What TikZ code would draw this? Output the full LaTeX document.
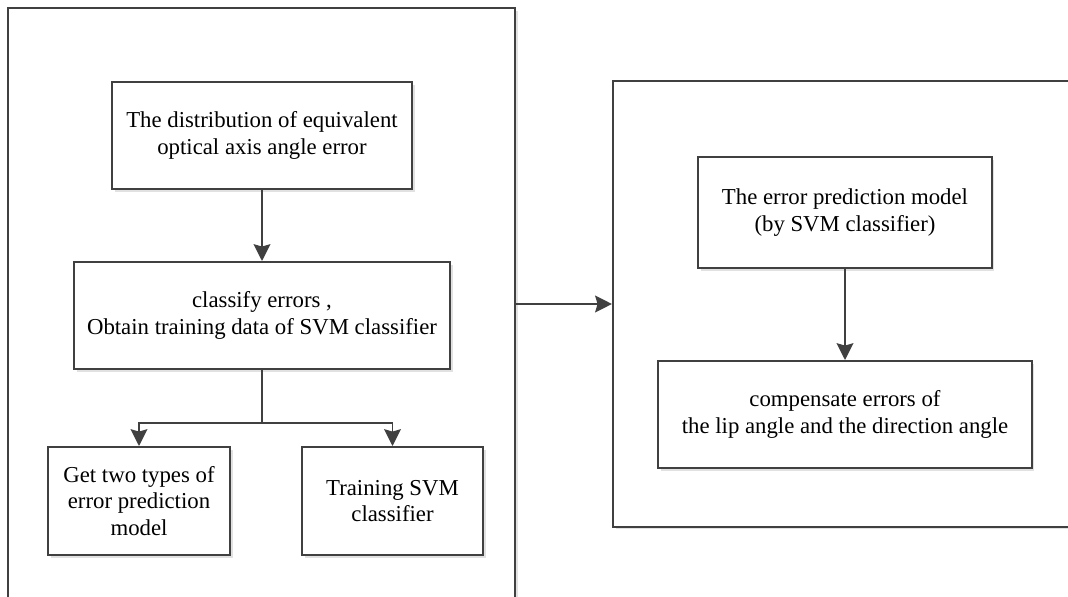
\documentclass[tikz,border=0pt]{standalone}
\usepackage{fontspec}
\setmainfont{Liberation Serif}
\usetikzlibrary{arrows.meta,positioning,shadows}
\definecolor{ln}{RGB}{64,64,64}
\definecolor{sh}{RGB}{225,225,225}
\tikzset{
    frame/.style={rectangle,draw=ln,line width=1.4pt,fill=white,drop shadow={shadow xshift=0.07cm,shadow yshift=-0.07cm,fill=sh,opacity=1}},
    blk/.style={frame,align=center,font=\fontsize{16.2}{18.6}\selectfont,inner sep=2pt},
    arr/.style={-{Stealth[length=0.42cm,width=0.42cm,inset=0.06cm]},line width=1.4pt,ln},
    lnk/.style={line width=1.4pt,ln},
}

\begin{document}
\begin{tikzpicture}[x=0.025cm,y=-0.025cm]
\useasboundingbox (0,0) rectangle (1068,597);
\clip (0,0) rectangle (1068,597);
% two outer panels
\node[frame,minimum width=12.675cm,minimum height=14.8cm] (left) at (261.5,304) {};
\node[frame,minimum width=11.55cm,minimum height=11.125cm] (right) at (844,304) {};
% left panel
\node[blk,minimum width=7.5cm,minimum height=2.675cm] (dist) at (262,135.5) {The distribution of equivalent\\optical axis angle error};
\node[blk,minimum width=9.4cm,minimum height=2.675cm] (cls) at (262,315.5) {classify errors ,\\Obtain training data of SVM classifier};
\node[blk,minimum width=4.55cm,minimum height=2.7cm] (types) at (139,501) {Get two types of\\error prediction\\model};
\node[blk,minimum width=4.525cm,minimum height=2.7cm] (train) at (392.5,501) {Training SVM\\classifier};
\coordinate (split) at (262,423);
% right panel
\node[blk,minimum width=7.325cm,minimum height=2.775cm] (pred) at (845,212.5) {The error prediction model\\(by SVM classifier)};
\node[blk,minimum width=9.325cm,minimum height=2.675cm] (comp) at (845,414.5) {compensate errors of\\the lip angle and the direction angle};
% connectors
\draw[arr] (dist) -- (cls);
\draw[lnk] (cls) -- (split);
\draw[arr] (split) -| (types);
\draw[arr] (split) -| (train);
\draw[arr] (pred) -- (comp);
\draw[arr] (left.east |- right.west) -- (right.west);
\end{tikzpicture}
\end{document}
